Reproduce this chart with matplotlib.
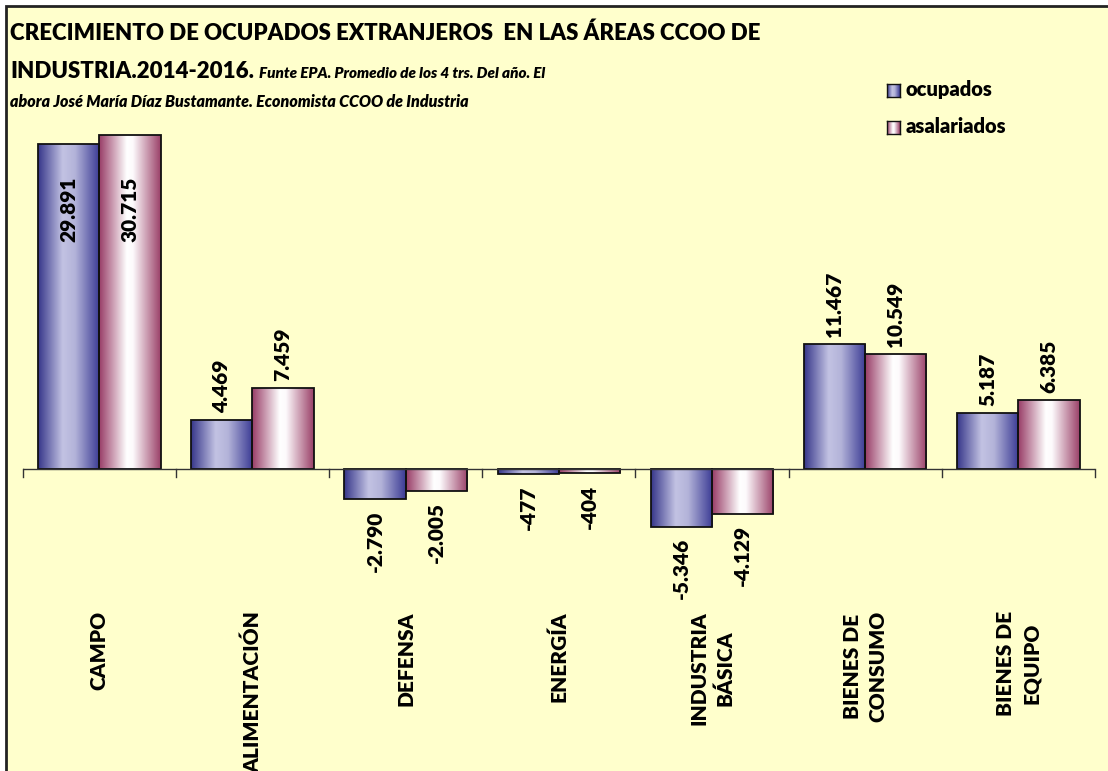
import numpy as np
import matplotlib
matplotlib.use('Agg')
import matplotlib.pyplot as plt
from matplotlib.colors import LinearSegmentedColormap
from matplotlib.patches import Rectangle

categorias = ['CAMPO', 'ALIMENTACIÓN', 'DEFENSA', 'ENERGÍA',
              'INDUSTRIA\nBÁSICA', 'BIENES DE\nCONSUMO', 'BIENES DE\nEQUIPO']
ocupados = [29891, 4469, -2790, -477, -5346, 11467, 5187]
asalariados = [30715, 7459, -2005, -404, -4129, 10549, 6385]
series = ['ocupados', 'asalariados']

titulo1 = 'CRECIMIENTO DE OCUPADOS EXTRANJEROS  EN LAS ÁREAS CCOO DE'
titulo2 = 'INDUSTRIA.2014-2016.'
nota1 = 'Funte EPA. Promedio de los 4 trs. Del año. El'
nota2 = 'abora José María Díaz Bustamante. Economista CCOO de Industria'

plt.rcParams['font.family'] = ['Lato', 'DejaVu Sans']
plt.rcParams['font.weight'] = 'heavy'

W, H = 1108, 771
fig = plt.figure(figsize=(W / 100, H / 100), dpi=100)
fig.patch.set_facecolor('white')

# yellow chart area with dark frame on left/top
bg = fig.add_axes([0, 0, 1, 1], zorder=-10)
bg.set_xlim(0, W)
bg.set_ylim(H, 0)
bg.axis('off')
bg.add_patch(Rectangle((6, 6), W, H, facecolor='#ffffcc', edgecolor='#222222', linewidth=2))

cmap_oc = LinearSegmentedColormap.from_list('oc', [(0, '#36368a'), (0.4, '#c3c3e3'),
                                                    (0.6, '#b3b3d9'), (1, '#3a3a94')])
cmap_as = LinearSegmentedColormap.from_list('as', [(0, '#983c66'), (0.45, '#ffffff'),
                                                    (0.55, '#fdfafc'), (1, '#9a4068')])

# axes mapped so zero line sits at y=469px
px_per_unit = (469 - 144) / 29891
ymax = (469 - 100) / px_per_unit
ymin = -(771 - 469) / px_per_unit
x0, x1 = 22.7, 1095
ax = fig.add_axes([x0 / W, 0, (x1 - x0) / W, 671 / H])
ax.patch.set_visible(False)
ax.axis('off')

x = np.arange(len(categorias))
w = 0.4
grad = np.linspace(0, 1, 256).reshape(1, -1)
for vals, off, cmap in [(ocupados, -w / 2, cmap_oc), (asalariados, w / 2, cmap_as)]:
    bars = ax.bar(x + off, vals, w, facecolor='none', edgecolor='#111111', linewidth=1.3, zorder=3)
    for b in bars:
        bx, by = b.get_x(), b.get_y()
        bw, bh = b.get_width(), b.get_height()
        im = ax.imshow(grad, cmap=cmap, aspect='auto', extent=(bx, bx + bw, by, by + bh),
                       interpolation='bicubic', zorder=2)
        im.set_clip_path(b)
    for xi, v in zip(x + off, vals):
        s = f'{v:,}'.replace(',', '.')
        if v > 28000:
            ax.text(xi, 26900, s, rotation=90, ha='center', va='top', fontsize=15, zorder=4)
        elif v >= 0:
            ax.annotate(s, (xi, v), xytext=(0, 5), textcoords='offset points', rotation=90,
                        ha='center', va='bottom', fontsize=15, zorder=4)
        else:
            ax.annotate(s, (xi, v), xytext=(0, -8), textcoords='offset points', rotation=90,
                        ha='center', va='top', fontsize=15, zorder=4)

ax.set_xlim(-0.5, len(categorias) - 0.5)
ax.set_ylim(ymin, ymax)

# zero line and ticks
ax.axhline(0, color='#333333', linewidth=1, zorder=4)
tick_len = 8 / px_per_unit
for t in np.arange(len(categorias) + 1) - 0.5:
    ax.plot([t, t], [0, -tick_len], color='#333333', linewidth=1, zorder=4, clip_on=False)

cat_y = -(611 - 469) / px_per_unit
for xi, c in zip(x, categorias):
    ax.text(xi, cat_y, c, rotation=90, ha='center', va='top', multialignment='center',
            fontsize=15, linespacing=1.4)

# titles
fig.text(10 / W, 1 - 40 / H, titulo1, fontsize=16, ha='left', va='baseline')
t2 = fig.text(10 / W, 1 - 78 / H, titulo2, fontsize=16, ha='left', va='baseline')
fig.canvas.draw()
ext = t2.get_window_extent()
fig.text((ext.x1 + 5) / W, 1 - 78 / H, nota1, fontsize=11, style='italic', ha='left', va='baseline')
fig.text(10 / W, 1 - 107 / H, nota2, fontsize=11.5, style='italic', ha='left', va='baseline')

# legend
for i, (nombre, cmap) in enumerate(zip(series, [cmap_oc, cmap_as])):
    top = 84 + i * 37
    lax = fig.add_axes([887 / W, 1 - (top + 13) / H, 13 / W, 13 / H])
    lax.imshow(grad, cmap=cmap, aspect='auto', extent=(0, 1, 0, 1))
    lax.set_xticks([])
    lax.set_yticks([])
    for sp in lax.spines.values():
        sp.set_linewidth(1)
        sp.set_color('#111111')
    fig.text(906 / W, 1 - (top + 12) / H, nombre, fontsize=14.5, ha='left', va='baseline')

plt.savefig('out.png', dpi=100)
